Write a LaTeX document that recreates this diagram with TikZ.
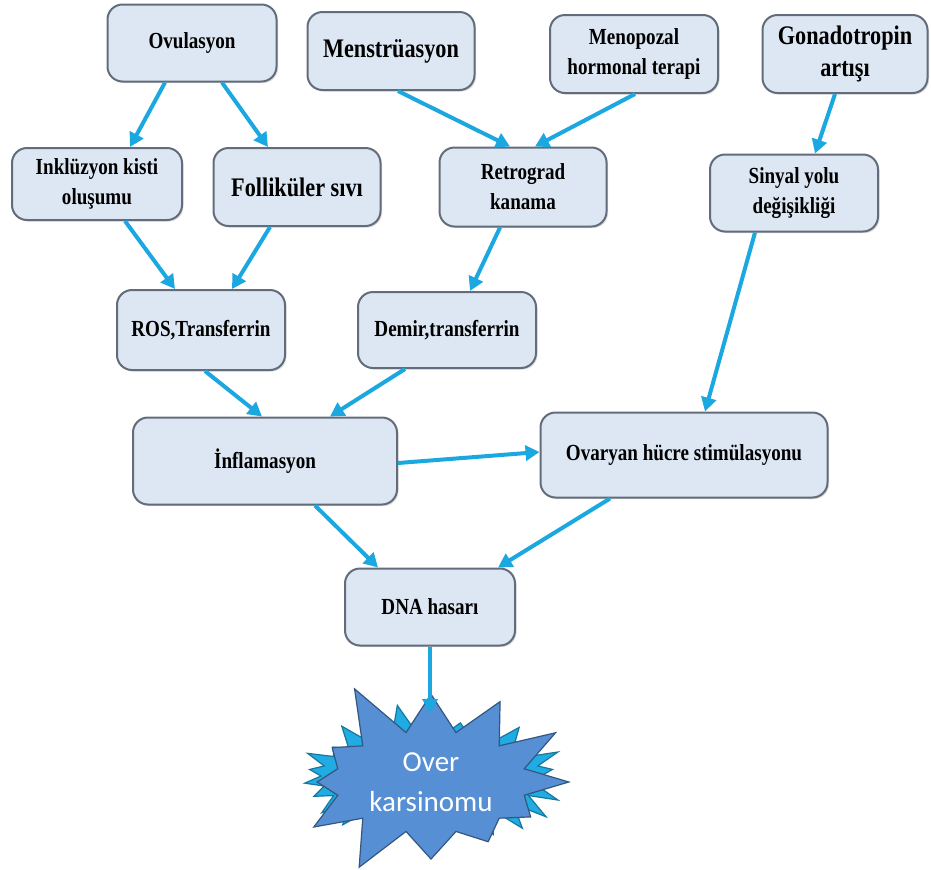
\documentclass[tikz,border=0pt]{standalone}
\usepackage{fontspec}
\setmainfont{Liberation Serif}[FakeStretch=0.83]
\newfontfamily\starfont{Carlito}
\usepackage{tikz}
\usetikzlibrary{arrows.meta,shapes.symbols,shadows,calc}
\definecolor{boxfill}{RGB}{221,231,243}
\definecolor{boxline}{RGB}{98,108,122}
\definecolor{arrowcyan}{RGB}{27,168,224}
\definecolor{starfront}{RGB}{86,143,212}
\definecolor{starback}{RGB}{32,172,226}
\tikzstyle{stepBox} = [
  shape=rectangle,
  rounded corners=7.5pt,
  draw=boxline,
  line width=1pt,
  fill=boxfill,
  drop shadow={opacity=0.25,shadow xshift=0.8pt,shadow yshift=-0.8pt},
  align=center,
  inner sep=2pt,
  font=\bfseries\fontsize{11.5}{15}\selectfont,
  ]
\tikzstyle{bigText} = [font=\bfseries\fontsize{13.4}{16}\selectfont]
\tikzstyle{flow} = [
  draw=arrowcyan,
  line width=2pt,
  -{Triangle[length=7pt,width=7.5pt]},
  ]
\tikzset{boxSize/.style 2 args={minimum width=#1pt, minimum height=#2pt}}

\begin{document}
\begin{tikzpicture}[x=0.5pt,y=-0.5pt]
  \useasboundingbox (0,0) rectangle (931,869);
  % top row
  \node[stepBox,boxSize={84.5}{38.5}] (ovu) at (192,43) {Ovulasyon};
  \node[stepBox,bigText,boxSize={83.5}{39}] (men) at (391,51) {Menstrüasyon};
  \node[stepBox,boxSize={84}{39}] (meno) at (634,54) {Menopozal\\hormonal terapi};
  \node[stepBox,bigText,boxSize={82.5}{39}] (gon) at (845,54) {Gonadotropin\\artışı};
  % second row
  \node[stepBox,boxSize={85}{36}] (ink) at (97,184) {Inklüzyon kisti\\oluşumu};
  \node[stepBox,bigText,boxSize={83.5}{39}] (fol) at (297,187) {Folliküler sıvı};
  \node[stepBox,boxSize={83.5}{39.5}] (ret) at (523,187) {Retrograd\\kanama};
  \node[stepBox,boxSize={84}{38.5}] (sin) at (794,193) {Sinyal yolu\\değişikliği};
  % third row
  \node[stepBox,boxSize={84}{40}] (ros) at (201,330) {ROS,Transferrin};
  \node[stepBox,boxSize={89}{38}] (dem) at (447,330) {Demir,transferrin};
  % fourth row
  \node[stepBox,boxSize={132}{43.5}] (inf) at (265,461) {İnflamasyon};
  \node[stepBox,boxSize={143.5}{42.5}] (ova) at (684,455) {Ovaryan hücre stimülasyonu};
  \node[stepBox,boxSize={85}{38.5}] (dna) at (430,607) {DNA hasarı};
  % carcinoma burst
  \node[starburst,starburst points=26,starburst point height=16pt,random starburst=11,
    fill=starback,draw=starback!70!black,line width=0.6pt,
    minimum width=142pt,minimum height=74pt] (burstbg) at (431,776) {};
  \node[starburst,starburst points=12,starburst point height=30pt,random starburst=5,
    fill=starfront,draw=starfront!60!black,line width=0.6pt,
    minimum width=132pt,minimum height=86pt,align=center,text=white,
    font=\starfont\fontsize{14.5}{20}\selectfont] (burst) at (431,782) {Over\\karsinomu};
  \coordinate (tip) at (430,713);
  % arrows
  \draw[flow] ([xshift=-13.5pt]ovu.south) -- ([xshift=16.5pt]ink.north);
  \draw[flow] ([xshift=15pt]ovu.south) -- ([xshift=-14.5pt]fol.north);
  \draw[flow] ([xshift=3.5pt]men.south) -- ([xshift=-6.5pt]ret.north);
  \draw[flow] ([xshift=0.5pt]meno.south) -- ([xshift=6pt]ret.north);
  \draw[flow] ([xshift=-5pt]gon.south) -- ([xshift=10.5pt]sin.north);
  \draw[flow] ([xshift=14pt]ink.south) -- ([xshift=-13pt]ros.north);
  \draw[flow] ([xshift=-13.5pt]fol.south) -- ([xshift=15.5pt]ros.north);
  \draw[flow] ([xshift=-11.5pt]ret.south) -- ([xshift=11.5pt]dem.north);
  \draw[flow] ([xshift=2pt]ros.south) -- ([xshift=-1.5pt]inf.north);
  \draw[flow] ([xshift=-21pt]dem.south) -- ([xshift=32.5pt]inf.north);
  \draw[flow] ([xshift=-19.5pt]sin.south) -- ([xshift=10.5pt]ova.north);
  \draw[flow] ([yshift=-1pt]inf.east) -- ([yshift=1.5pt]ova.west);
  \draw[flow] ([xshift=25pt]inf.south) -- ([xshift=-26pt]dna.north);
  \draw[flow] ([xshift=-37pt]ova.south) -- ([xshift=34pt]dna.north);
  \draw[flow] (dna.south) -- (tip);
\end{tikzpicture}
\end{document}
